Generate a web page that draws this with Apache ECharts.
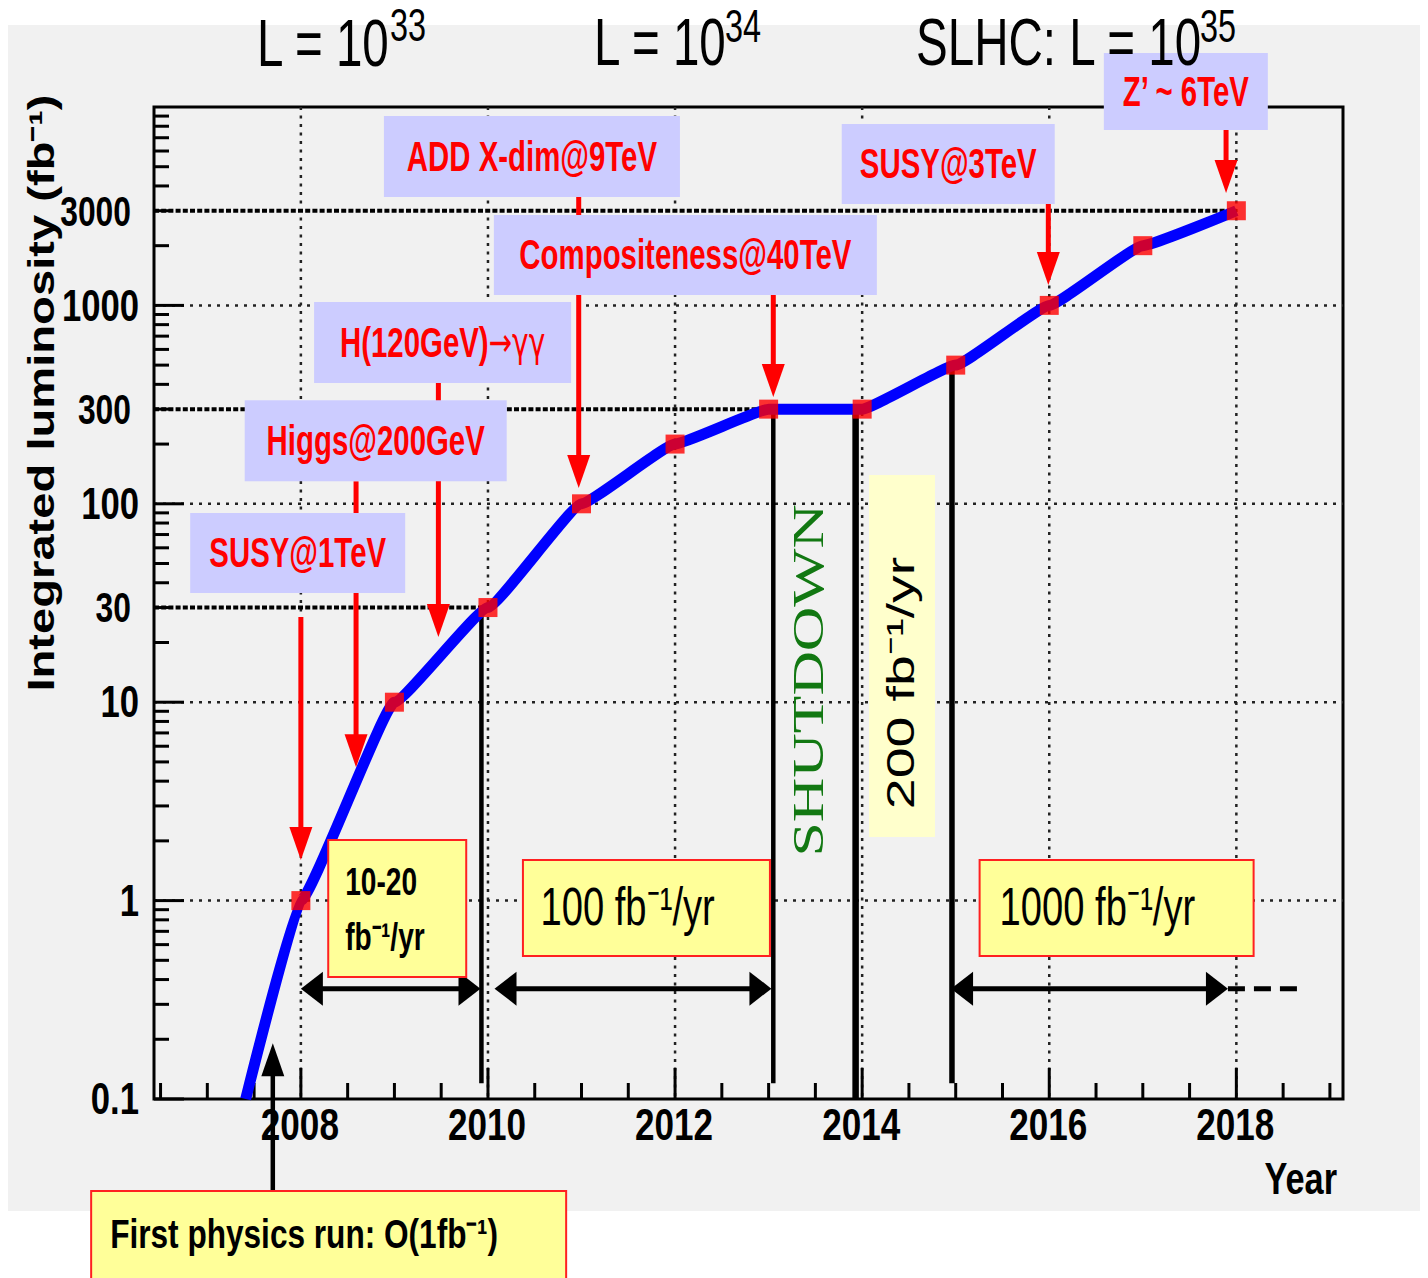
<!DOCTYPE html>
<html>
<head>
<meta charset="utf-8">
<script src="https://cdn.jsdelivr.net/npm/echarts@6/dist/echarts.min.js"></script>
<style>
html,body{margin:0;padding:0;background:#ffffff;}
#chart{width:1428px;height:1278px;}
</style>
</head>
<body>
<div id="chart"></div>
<script>
// ---------------- data ----------------
const markerYears = [2008, 2009, 2010, 2011, 2012, 2013, 2014, 2015, 2016, 2017, 2018];
const markerLumi  = [1, 10, 30, 100, 200, 300, 300, 500, 1000, 2000, 3000];
const curveStartYear = 2007.41;
const curveStartLumi = 0.1;

const xTickLabels   = [2008, 2010, 2012, 2014, 2016, 2018];
const yDecadeLabels = [0.1, 1, 10, 100, 1000];
const yExtraLabels  = [30, 300, 3000];

const refLevelLumi    = [3000, 300, 30];
const refLevelEndYear = [2018, 2013, 2010];

const phaseLineYear   = [2009.93, 2013.05, 2013.93, 2014.96];
const phaseLineTop    = [30, 300, 300, 500];
const phaseLineBottom = [0.12, 0.12, 0.1, 0.12];

const rateArrowStart = [2008.0, 2010.07, 2014.95];
const rateArrowEnd   = [2009.92, 2013.03, 2017.91];
const rateArrowLumi  = 0.36;
const rateArrowExtendTo = 2018.65;

const physicsLabels    = ['SUSY@1TeV', 'Higgs@200GeV', 'H(120GeV)\u2192\u03b3\u03b3', 'ADD X-dim@9TeV', 'Compositeness@40TeV', 'SUSY@3TeV', 'Z\u2019 ~ 6TeV'];
const physicsLabelYear = [2007.966, 2008.80, 2009.515, 2010.47, 2012.11, 2014.92, 2017.46];
const physicsLabelLumi = [56.5, 208, 650, 5625, 1795, 5160, 11970];
const physicsArrowYear = [2008.0, 2008.59, 2009.47, 2010.97, 2013.05, 2015.99, 2017.89];
const physicsArrowFrom = [26.9, 130, 406, 3730, 1128, 3730, 8906];
const physicsArrowTo   = [1.6, 4.7, 21.3, 120, 345, 1267, 3690];

const rateLabels    = [['10-20', 'fb\u207b\u00b9/yr'], ['100 fb\u207b\u00b9/yr'], ['1000 fb\u207b\u00b9/yr']];
const rateLabelYear = [2009.03, 2011.694, 2016.72];
const rateLabelLumi = [0.912, 0.918, 0.918];

const shutdownLabel = 'SHUTDOWN';
const shutdownYear = 2013.42, shutdownLumi = 12.9;
const upgradeLabel = '200 fb\u207b\u00b9/yr';
const upgradeBoxYear = 2014.426, upgradeBoxLumi = 17.1;
const upgradeTextYear = 2014.413, upgradeTextLumi = 12.5;

const firstRunLabel = 'First physics run: O(1fb\u207b\u00b9)';
const firstRunArrowYear = 2007.70, firstRunArrowFrom = 0.0344, firstRunArrowTo = 0.191;
const firstRunBoxYear = 2008.297, firstRunBoxLumi = 0.01775;

const yAxisTitle = 'Integrated luminosity (fb\u207b\u00b9)';
const xAxisTitle = 'Year';
const lumiTitles = [['L = 10', '33'], ['L = 10', '34'], ['SLHC: L = 10', '35']];

// ---------------- layout / style ----------------
const X_MIN = 2006.43, X_MAX = 2019.14, Y_MIN = 0.1, Y_MAX = 10000;
const SANS = '"Liberation Sans", Arial, Helvetica, sans-serif';
const SYMB = '"DejaVu Sans", "Liberation Sans", sans-serif';
const SERIF = '"Liberation Serif", "Times New Roman", serif';
const physBoxSize = [[215, 80], [262, 81], [257, 81], [296, 81], [383, 80], [213, 80], [164, 77]];
const rateBoxSize = [[138, 137], [247, 96], [274, 96]];
const titleLayout = [
  {x: 257, y: 42, sx: 390, sy: 25},
  {x: 594, y: 41.5, sx: 725, sy: 25.5},
  {x: 916, y: 41.5, sx: 1200, sy: 25.5}
];

function L(x1, y1, x2, y2, style) {
  return {type: 'line', shape: {x1, y1, x2, y2}, style: Object.assign({stroke: '#000', lineWidth: 3}, style)};
}
function T(x, y, text, o) {
  return {
    type: 'text', x, y, rotation: o.rot || 0, scaleX: o.sx || 1, scaleY: 1,
    style: {
      text, fill: o.fill || '#000', fontFamily: o.ff || SANS, fontSize: o.fs,
      fontWeight: o.fw || 'normal', align: o.al || 'center', verticalAlign: 'middle'
    }
  };
}
// label text: symbols (arrow, gamma) drawn with a font that has the proper glyph shapes
function physicsText(x, y, text) {
  const m = text.match(/^([^\u2192]*)(\u2192.*)$/);
  const base = {fontSize: 42, fontWeight: 'bold', fontFamily: SANS, fill: '#ff0000'};
  const el = T(x, y, text, {fs: 42, fw: 'bold', fill: '#ff0000', sx: 0.70});
  if (m) {
    el.style.text = '{a|' + m[1] + '}{b|' + m[2] + '}';
    el.style.rich = {
      a: Object.assign({}, base),
      b: Object.assign({}, base, {fontFamily: SYMB, fontWeight: 'normal', fontSize: 40})
    };
  }
  return el;
}

const chart = echarts.init(document.getElementById('chart'), null, {renderer: 'svg'});

const series = [];

// axes: gridlines + ticks
series.push({
  type: 'custom', name: 'axes', z: 1, silent: true, clip: false,
  data: [[X_MIN, Y_MIN]],
  renderItem(params, api) {
    const ch = [];
    const yb = api.coord([X_MIN, Y_MIN])[1], yt = api.coord([X_MIN, Y_MAX])[1];
    const xl = api.coord([X_MIN, Y_MIN])[0], xr = api.coord([X_MAX, Y_MIN])[0];
    xTickLabels.forEach(v => {
      const x = api.coord([v, Y_MIN])[0];
      ch.push(L(x, yt, x, yb, {stroke: '#222', lineWidth: 2.5, lineDash: [3, 5.5]}));
    });
    yDecadeLabels.filter(v => v > Y_MIN).forEach(v => {
      const y = api.coord([X_MIN, v])[1];
      ch.push(L(xl, y, xr, y, {stroke: '#222', lineWidth: 2.5, lineDash: [3, 6]}));
    });
    for (let t = 2006.5; t <= 2019.001; t += 0.5) {
      const x = api.coord([t, Y_MIN])[0];
      const major = xTickLabels.indexOf(t) >= 0;
      ch.push(L(x, yb, x, yb - (major ? 31 : 16), {lineWidth: 3}));
    }
    yDecadeLabels.forEach(d => {
      for (let k = 1; k <= 9; k++) {
        const v = d * k;
        if (v > Y_MAX * 1.0001) continue;
        const y = api.coord([X_MIN, v])[1];
        ch.push(L(xl, y, xl + (k === 1 ? 30 : 15), y, {lineWidth: 3}));
      }
    });
    return {type: 'group', children: ch};
  }
});

// reference levels (dashed black)
series.push({
  type: 'custom', name: 'levels', z: 2, silent: true, clip: false,
  data: refLevelLumi.map((v, i) => [refLevelEndYear[i], v]),
  renderItem(params, api) {
    const a = api.coord([X_MIN, api.value(1)]), b = api.coord([api.value(0), api.value(1)]);
    return L(a[0], a[1], b[0], b[1], {lineWidth: 4, lineDash: [5, 2.2]});
  }
});

// phase boundaries (solid black verticals)
const phaseWidth = [4.5, 4.5, 6.5, 5.5];
series.push({
  type: 'custom', name: 'phases', z: 3, silent: true, clip: false,
  data: phaseLineYear.map((y, i) => [y, phaseLineTop[i], phaseLineBottom[i]]),
  renderItem(params, api) {
    const a = api.coord([api.value(0), api.value(1)]), b = api.coord([api.value(0), api.value(2)]);
    return L(a[0], a[1], b[0], b[1], {lineWidth: phaseWidth[params.dataIndex]});
  }
});

// luminosity curve
series.push({
  type: 'line', name: 'Integrated luminosity', z: 4, silent: true,
  data: [[curveStartYear, curveStartLumi]].concat(markerYears.map((y, i) => [y, markerLumi[i]])),
  showSymbol: false, smooth: 0.1, smoothMonotone: 'x',
  lineStyle: {color: '#0000ff', width: 11}
});
series.push({
  type: 'scatter', name: 'Yearly', z: 5, silent: true,
  data: markerYears.map((y, i) => [y, markerLumi[i]]),
  symbol: 'rect', symbolSize: 19, itemStyle: {color: '#ff0000'}
});

// rate double arrows
series.push({
  type: 'custom', name: 'rateArrows', z: 6, silent: true, clip: false,
  data: rateArrowStart.map((s, i) => [s, rateArrowEnd[i], rateArrowLumi]),
  renderItem(params, api) {
    const a = api.coord([api.value(0), api.value(2)]), b = api.coord([api.value(1), api.value(2)]);
    const HL = 22, HW = 34;
    return {type: 'group', children: [
      L(a[0] + HL - 2, a[1], b[0] - HL + 2, b[1], {lineWidth: 5}),
      {type: 'polygon', shape: {points: [[a[0], a[1]], [a[0] + HL, a[1] - HW / 2], [a[0] + HL, a[1] + HW / 2]]}, style: {fill: '#000'}},
      {type: 'polygon', shape: {points: [[b[0], b[1]], [b[0] - HL, b[1] - HW / 2], [b[0] - HL, b[1] + HW / 2]]}, style: {fill: '#000'}}
    ]};
  }
});
series.push({
  type: 'custom', name: 'rateContinuation', z: 6, silent: true, clip: false,
  data: [[rateArrowEnd[2], rateArrowExtendTo, rateArrowLumi]],
  renderItem(params, api) {
    const a = api.coord([api.value(0), api.value(2)]), b = api.coord([api.value(1), api.value(2)]);
    return L(a[0], a[1], b[0], b[1], {lineWidth: 5, lineDash: [17, 9]});
  }
});

// red physics arrows
series.push({
  type: 'custom', name: 'physicsArrows', z: 7, silent: true, clip: false,
  data: physicsArrowYear.map((y, i) => [y, physicsArrowFrom[i], physicsArrowTo[i]]),
  renderItem(params, api) {
    const p0 = api.coord([api.value(0), api.value(1)]), p1 = api.coord([api.value(0), api.value(2)]);
    const HL = 33, HW = 23;
    return {type: 'group', children: [
      L(p0[0], p0[1], p1[0], p1[1] - HL + 3, {stroke: '#ff0000', lineWidth: 5}),
      {type: 'polygon', shape: {points: [[p1[0] - HW / 2, p1[1] - HL], [p1[0] + HW / 2, p1[1] - HL], [p1[0], p1[1]]]}, style: {fill: '#ff0000'}}
    ]};
  }
});

// lavender physics label boxes
series.push({
  type: 'custom', name: 'physicsLabels', z: 8, silent: true, clip: false,
  data: physicsLabelYear.map((y, i) => [y, physicsLabelLumi[i]]),
  renderItem(params, api) {
    const i = params.dataIndex;
    const c = api.coord([api.value(0), api.value(1)]);
    const [w, h] = physBoxSize[i];
    return {type: 'group', children: [
      {type: 'rect', shape: {x: c[0] - w / 2, y: c[1] - h / 2, width: w, height: h}, style: {fill: '#ccccff'}},
      physicsText(c[0], c[1], physicsLabels[i])
    ]};
  }
});

// yellow rate boxes
const rateTextLayout = [
  {dx: -52, dys: [-27, 28], fs: 38, fw: 'bold', sx: 0.74},
  {dx: -106, dys: [-1], fs: 53, fw: 'normal', sx: 0.72},
  {dx: -117, dys: [-1], fs: 53, fw: 'normal', sx: 0.72}
];
series.push({
  type: 'custom', name: 'rateLabels', z: 9, silent: true, clip: false,
  data: rateLabelYear.map((y, i) => [y, rateLabelLumi[i]]),
  renderItem(params, api) {
    const i = params.dataIndex;
    const c = api.coord([api.value(0), api.value(1)]);
    const [w, h] = rateBoxSize[i];
    const lay = rateTextLayout[i];
    const ch = [{type: 'rect', shape: {x: c[0] - w / 2, y: c[1] - h / 2, width: w, height: h}, style: {fill: '#ffff99', stroke: '#ff2020', lineWidth: 2}}];
    rateLabels[i].forEach((t, k) => ch.push(T(c[0] + lay.dx, c[1] + lay.dys[k], t, {fs: lay.fs, fw: lay.fw, sx: lay.sx, al: 'left'})));
    return {type: 'group', children: ch};
  }
});

// shutdown + upgrade period
series.push({
  type: 'custom', name: 'shutdown', z: 9, silent: true, clip: false,
  data: [[upgradeBoxYear, upgradeBoxLumi]],
  renderItem(params, api) {
    const b = api.coord([upgradeBoxYear, upgradeBoxLumi]);
    const t = api.coord([upgradeTextYear, upgradeTextLumi]);
    const s = api.coord([shutdownYear, shutdownLumi]);
    return {type: 'group', children: [
      {type: 'rect', shape: {x: b[0] - 33, y: b[1] - 181, width: 66, height: 362}, style: {fill: '#ffffcc'}},
      T(t[0], t[1], upgradeLabel, {fs: 39, rot: Math.PI / 2, sx: 1.42}),
      T(s[0], s[1], shutdownLabel, {fs: 44, ff: SERIF, fill: '#127812', rot: Math.PI / 2, sx: 1.40})
    ]};
  }
});

// first physics run
series.push({
  type: 'custom', name: 'firstRun', z: 9, silent: true, clip: false,
  data: [[firstRunBoxYear, firstRunBoxLumi]],
  renderItem(params, api) {
    const c = api.coord([firstRunBoxYear, firstRunBoxLumi]);
    const a0 = api.coord([firstRunArrowYear, firstRunArrowFrom]);
    const a1 = api.coord([firstRunArrowYear, firstRunArrowTo]);
    const w = 475, h = 114, HL = 33, HW = 23;
    return {type: 'group', children: [
      L(a0[0], a0[1], a1[0], a1[1] + HL - 3, {lineWidth: 4.5}),
      {type: 'polygon', shape: {points: [[a1[0], a1[1]], [a1[0] - HW / 2, a1[1] + HL], [a1[0] + HW / 2, a1[1] + HL]]}, style: {fill: '#000'}},
      {type: 'rect', shape: {x: c[0] - w / 2, y: c[1] - h / 2, width: w, height: h}, style: {fill: '#ffff99', stroke: '#ff2020', lineWidth: 2}},
      T(c[0] - w / 2 + 19, c[1] - h / 2 + 43, firstRunLabel, {fs: 40, fw: 'bold', sx: 0.79, al: 'left'})
    ]};
  }
});

// axis labels
series.push({
  type: 'custom', name: 'axisLabels', z: 10, silent: true, clip: false,
  data: [[X_MIN, Y_MIN]],
  renderItem(params, api) {
    const ch = [];
    xTickLabels.forEach(v => {
      const p = api.coord([v, Y_MIN]);
      ch.push(T(p[0] - 1, p[1] + 25, String(v), {fs: 45, fw: 'bold', sx: 0.78}));
    });
    yDecadeLabels.forEach(v => {
      const p = api.coord([X_MIN, v]);
      ch.push(T(p[0] - 15, p[1], String(v), {fs: 45, fw: 'bold', sx: 0.77, al: 'right'}));
    });
    yExtraLabels.forEach(v => {
      const p = api.coord([X_MIN, v]);
      ch.push(T(p[0] - 23, p[1], String(v), {fs: 43, fw: 'bold', sx: 0.74, al: 'right'}));
    });
    const e = api.coord([X_MAX, Y_MIN]);
    ch.push(T(e[0] - 6, e[1] + 79, xAxisTitle, {fs: 44, fw: 'bold', sx: 0.78, al: 'right'}));
    return {type: 'group', children: ch};
  }
});

const graphicEls = [
  {type: 'rect', z: -10, silent: true, shape: {x: 8, y: 25, width: 1412, height: 1186}, style: {fill: '#f1f1f1'}},
  {type: 'text', z: 100, silent: true, x: 42, y: 393, rotation: Math.PI / 2, scaleX: 1.31,
    style: {text: yAxisTitle, fontSize: 36, fontWeight: 'bold', fontFamily: SANS, fill: '#000', align: 'center', verticalAlign: 'middle'}}
];
lumiTitles.forEach((t, i) => {
  const lay = titleLayout[i];
  graphicEls.push({type: 'text', z: 100, silent: true, x: lay.x, y: lay.y, scaleX: 0.71,
    style: {text: t[0], fontSize: 67, fontFamily: SANS, fill: '#000', align: 'left', verticalAlign: 'middle'}});
  graphicEls.push({type: 'text', z: 100, silent: true, x: lay.sx, y: lay.sy, scaleX: 0.69,
    style: {text: t[1], fontSize: 47, fontFamily: SANS, fill: '#000', align: 'left', verticalAlign: 'middle'}});
});

chart.setOption({
  animation: false,
  backgroundColor: '#ffffff',
  grid: {left: 154, right: 85, top: 107, bottom: 179, show: true, borderColor: '#000', borderWidth: 3, backgroundColor: 'transparent'},
  xAxis: {type: 'value', min: X_MIN, max: X_MAX, axisLine: {show: false}, axisTick: {show: false}, axisLabel: {show: false}, splitLine: {show: false}},
  yAxis: {type: 'log', logBase: 10, min: Y_MIN, max: Y_MAX, axisLine: {show: false}, axisTick: {show: false}, axisLabel: {show: false}, splitLine: {show: false}},
  graphic: {elements: graphicEls},
  series: series
});
</script>
</body>
</html>
